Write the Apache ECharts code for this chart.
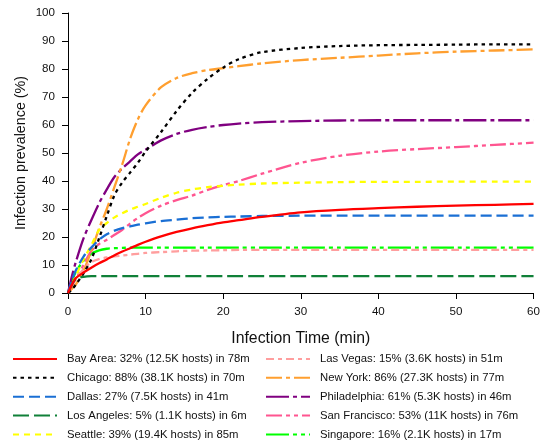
<!DOCTYPE html>
<html>
<head>
<meta charset="utf-8">
<script src="https://cdn.jsdelivr.net/npm/echarts@6/dist/echarts.min.js"></script>
<style>
  html, body { margin: 0; padding: 0; background: #fff; }
  #chart { width: 543px; height: 444px; }
</style>
</head>
<body>
<div id="chart"></div>
<script>
// Sample times (minutes) shared by every series
const times = [0, 0.5, 1, 2, 3, 4, 5, 6, 7, 8, 9, 10, 12, 14, 16, 18, 20, 22, 25, 30, 35, 40, 45, 50, 55, 60];

// Infection prevalence (%) per city
const bayArea      = [0, 3, 5.3, 7.3, 9, 10.6, 12, 13.5, 14.8, 16, 17.2, 18.3, 20.2, 21.8, 23.1, 24.2, 25.2, 26, 27.2, 28.8, 29.7, 30.3, 30.8, 31.2, 31.5, 31.8];
const chicago      = [0, 1.2, 3, 7, 12, 19.5, 27.5, 35, 39.5, 43, 46.5, 50.5, 57.5, 65, 71.5, 76.5, 80.5, 83.5, 86, 87.5, 88.2, 88.5, 88.6, 88.7, 88.8, 88.8];
const dallas       = [0, 4.5, 8, 13, 16.2, 19, 21, 22.3, 23.2, 23.8, 24.4, 24.9, 25.7, 26.2, 26.7, 27, 27.2, 27.3, 27.5, 27.6, 27.6, 27.6, 27.6, 27.6, 27.6, 27.6];
const losAngeles   = [0, 3, 5, 5.8, 6, 6, 6, 6, 6, 6, 6, 6, 6, 6, 6, 6, 6, 6, 6, 6, 6, 6, 6, 6, 6, 6];
const seattle      = [0, 3, 6, 12, 17, 22.5, 25, 27, 28.5, 29.8, 30.8, 31.8, 34, 35.8, 37, 37.8, 38.3, 38.7, 39.1, 39.4, 39.6, 39.7, 39.7, 39.8, 39.8, 39.8];
const lasVegas     = [0, 2.5, 5, 8.5, 11, 12.1, 12.7, 13.1, 13.4, 13.7, 14, 14.3, 14.6, 14.9, 15.1, 15.2, 15.3, 15.4, 15.4, 15.4, 15.4, 15.4, 15.4, 15.4, 15.4, 15.4];
const newYork      = [0, 1.5, 3, 8, 15, 23, 30, 38, 46, 55, 62, 67, 73.5, 76.8, 78.5, 79.6, 80.3, 81, 82, 83.2, 84, 84.8, 85.6, 86.2, 86.6, 87];
const philadelphia = [0, 6, 11, 19.5, 26, 32, 37, 41.5, 44.5, 47, 49.5, 51.2, 54.5, 56.8, 58.3, 59.3, 60, 60.5, 61, 61.4, 61.6, 61.7, 61.7, 61.7, 61.7, 61.7];
const sanFrancisco = [0, 2.5, 5, 10, 15, 17.5, 19, 20.8, 22.6, 24.8, 26.8, 28.5, 31.2, 33.2, 34.8, 36.8, 38.5, 40, 42.6, 46.5, 49, 50.5, 51.4, 52.1, 52.9, 53.7];
const singapore    = [0, 4, 7.5, 11.5, 14, 15.2, 15.8, 16, 16.1, 16.2, 16.2, 16.2, 16.2, 16.2, 16.2, 16.2, 16.2, 16.2, 16.2, 16.2, 16.2, 16.2, 16.2, 16.2, 16.2, 16.2];

// Legend labels
const labels = [
  'Bay Area: 32% (12.5K hosts) in 78m',
  'Chicago: 88% (38.1K hosts) in 70m',
  'Dallas: 27% (7.5K hosts) in 41m',
  'Los Angeles: 5% (1.1K hosts) in 6m',
  'Seattle: 39% (19.4K hosts) in 85m',
  'Las Vegas: 15% (3.6K hosts) in 51m',
  'New York: 86% (27.3K hosts) in 77m',
  'Philadelphia: 61% (5.3K hosts) in 46m',
  'San Francisco: 53% (11K hosts) in 76m',
  'Singapore: 16% (2.1K hosts) in 17m'
];

// Axis ticks
const xTicks = { min: 0, max: 60, interval: 10 };
const yTicks = { min: 0, max: 100, interval: 10 };

const values = [bayArea, chicago, dallas, losAngeles, seattle, lasVegas, newYork, philadelphia, sanFrancisco, singapore];
const colors = ['#ff0000', '#000000', '#1a6fd4', '#108038', '#ffff00', '#ff9e9e', '#ff9f2f', '#800080', '#ff5590', '#00ff00'];
const dashes = [
  'solid',
  [3.5, 4],
  [11, 5],
  [16, 5],
  [6, 5],
  [8, 4, 4, 4],
  [16, 4, 4, 4],
  [23, 4, 4, 4],
  [16, 4, 4, 4, 4, 4],
  [23, 4, 4, 4, 4, 4]
];

const FONT = '"Liberation Sans", Arial, Helvetica, sans-serif';

const series = values.map((vals, i) => ({
  name: labels[i],
  type: 'line',
  data: times.map((t, j) => [t, vals[j]]),
  symbol: 'circle',
  symbolSize: 0,
  showSymbol: false,
  smooth: 0.3,
  z: 10 - i,
  lineStyle: { color: colors[i], width: 2.3, type: dashes[i], join: 'round' },
  itemStyle: { color: colors[i], opacity: 0 }
}));

const legendCommon = {
  orient: 'vertical',
  top: 352,
  padding: 0,
  itemWidth: 44,
  itemHeight: 14,
  itemGap: 4.85,
  itemStyle: { opacity: 0 },
  textStyle: { fontFamily: FONT, fontSize: 11.3, color: '#111', lineHeight: 14, padding: [0, 0, 0, 5] },
  selectedMode: false
};

const chart = echarts.init(document.getElementById('chart'), null, { renderer: 'canvas' });
chart.setOption({
  animation: false,
  backgroundColor: '#fff',
  grid: { left: 68, right: 6.5, top: 13, bottom: 151, containLabel: false },
  xAxis: {
    type: 'value',
    min: xTicks.min, max: xTicks.max, interval: xTicks.interval,
    name: 'Infection Time (min)',
    nameLocation: 'middle',
    nameGap: 38,
    nameTextStyle: { fontFamily: FONT, fontSize: 15.8, color: '#111' },
    axisLine: { onZero: false, lineStyle: { color: '#000', width: 1 } },
    axisTick: { show: true, length: 6, lineStyle: { color: '#000' } },
    axisLabel: { fontFamily: FONT, fontSize: 11.6, color: '#111', margin: 13 },
    splitLine: { show: false }
  },
  yAxis: {
    type: 'value',
    min: yTicks.min, max: yTicks.max, interval: yTicks.interval,
    name: 'Infection prevalence (%)',
    nameLocation: 'middle',
    nameGap: 39.5,
    nameMoveOverlap: false,
    nameTextStyle: { fontFamily: FONT, fontSize: 14.3, color: '#111' },
    axisLine: { show: true, onZero: false, lineStyle: { color: '#000', width: 1 } },
    axisTick: { show: true, length: 6, lineStyle: { color: '#000' } },
    axisLabel: { fontFamily: FONT, fontSize: 11.6, color: '#111', margin: 13 },
    splitLine: { show: false }
  },
  legend: [
    Object.assign({}, legendCommon, { left: 12, data: labels.slice(0, 5) }),
    Object.assign({}, legendCommon, { left: 265, data: labels.slice(5, 10) })
  ],
  series: series
});
</script>
</body>
</html>
